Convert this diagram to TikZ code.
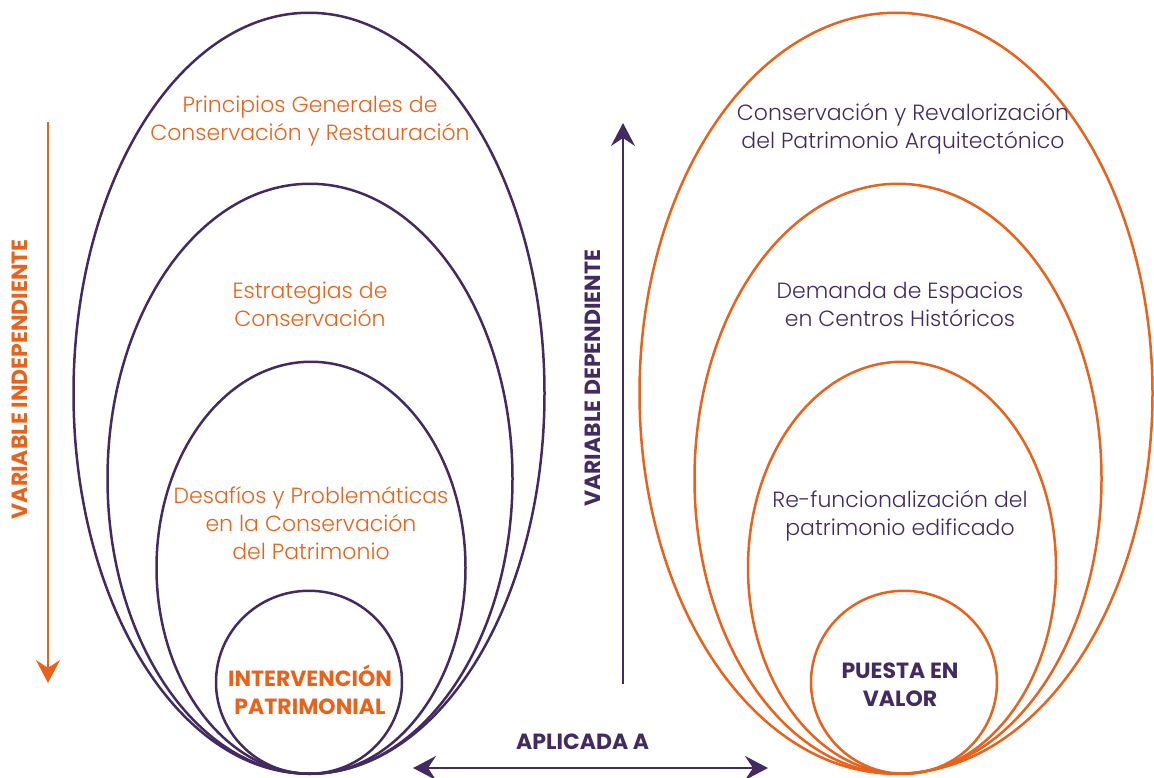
\documentclass[tikz,border=0pt]{standalone}
\usepackage{fontspec}
\setmainfont{Poppins}
\newfontfamily\lightfont{Poppins Light}
\usetikzlibrary{positioning, shapes.geometric, arrows.meta}
\definecolor{naranja}{HTML}{E9621B}
\definecolor{morado}{HTML}{432B62}

\begin{document}
\begin{tikzpicture}[x=1pt, y=-1pt, node distance = 0pt,
	ring/.style = { ellipse, draw, line width=2.5pt, inner sep=0pt,
	anchor=south },
	txt/.style = { align=center, inner sep=0pt,
	font=\lightfont\fontsize{22}{28}\selectfont },
	tag/.style = { align=center, inner sep=0pt,
	font=\fontsize{22}{28}\selectfont\bfseries },
	>={Stealth[length=23pt, width=24pt, inset=8pt]},
	arr/.style = { line width=2.5pt } ]

  \useasboundingbox (0,0) rectangle (1154,777);

  % variable independiente
  \node [name=princL, ring, draw=morado,
	minimum width=471pt, minimum height=761pt] at (309,775) {};
  \node [name=estrL, ring, draw=morado,
	minimum width=405pt, minimum height=590pt] at (310,775) {};
  \node [name=desafL, ring, draw=morado,
	minimum width=309pt, minimum height=412pt] at (311,775) {};
  \node [name=intervL, ring, draw=morado,
	minimum width=186pt, minimum height=183pt] at (309,775) {};

  \node [name=princT, txt, text=naranja] at (310,121)
	{ Principios Generales de\\Conservación y Restauración };
  \node [name=estrT, txt, text=naranja] at (310,304)
	{ Estrategias de\\Conservación };
  \node [name=desafT, txt, text=naranja] at (311,523)
	{ Desafíos y Problemáticas\\en la Conservación\\del Patrimonio };
  \node [name=intervT, tag, text=naranja] at (310,690)
	{ INTERVENCIÓN\\PATRIMONIAL };

  % variable dependiente
  \node [name=consR, ring, draw=naranja,
	minimum width=513pt, minimum height=761pt] at (896,775) {};
  \node [name=demR, ring, draw=naranja,
	minimum width=407pt, minimum height=590pt] at (898,775) {};
  \node [name=refunR, ring, draw=naranja,
	minimum width=308pt, minimum height=412pt] at (902,775) {};
  \node [name=puestaR, ring, draw=naranja,
	minimum width=186pt, minimum height=183pt] at (904,775) {};

  \node [name=consT, txt, text=morado] at (903,129)
	{ Conservación y Revalorización\\del Patrimonio Arquitectónico };
  \node [name=demT, txt, text=morado] at (900,304)
	{ Demanda de Espacios\\en Centros Históricos };
  \node [name=refunT, txt, text=morado] at (900,516)
	{ Re-funcionalización del\\patrimonio edificado };
  \node [name=puestaT, tag, text=morado] at (900,685)
	{ PUESTA EN\\VALOR };

  % flechas
  \coordinate (indTop) at (48,122);
  \coordinate (indBot) at (48,683);
  \draw [arr, naranja, ->] (indTop) -- (indBot);
  \node [name=indT, tag, text=naranja, rotate=90] at (20,377)
	{ VARIABLE INDEPENDIENTE };

  \coordinate (depBot) at (623,684);
  \coordinate (depTop) at (623,123);
  \draw [arr, morado, ->] (depBot) -- (depTop);
  \node [name=depT, tag, text=morado, rotate=90] at (593,376)
	{ VARIABLE DEPENDIENTE };

  \coordinate (aplL) at (413,768);
  \coordinate (aplR) at (768,768);
  \draw [arr, morado, <->] (aplL) -- (aplR);
  \node [name=aplT, tag, text=morado] at (585,742) { APLICADA A };
\end{tikzpicture}
\end{document}
